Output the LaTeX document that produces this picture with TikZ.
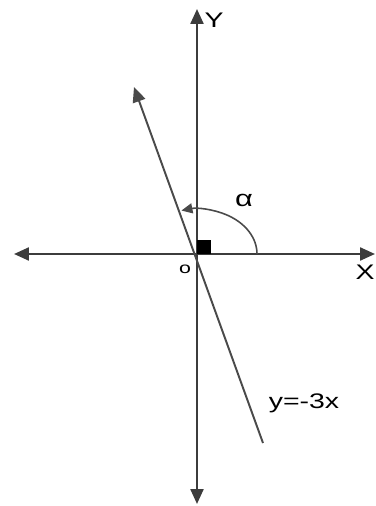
\documentclass[tikz,border=0pt]{standalone}
\usepackage{fontspec}
\setmainfont{Liberation Sans}
\usetikzlibrary{arrows.meta}
\definecolor{axisgray}{HTML}{3C3C3C}
\definecolor{linegray}{HTML}{4A4A4A}
\newcommand{\widetxt}[1]{\scalebox{1.35}[1]{#1}}
\tikzset{
  axis/.style={draw=axisgray, line width=1.3pt, {Triangle[length=3mm,width=2.6mm]}-{Triangle[length=3mm,width=2.6mm]}},
  graphline/.style={draw=linegray, line width=1.1pt},
  anglearc/.style={draw=linegray, line width=0.9pt, -{Triangle[length=2.2mm,width=2mm]}},
  rightangle/.style={fill=black, inner sep=0pt, minimum width=0.27cm, minimum height=0.28cm},
  axislabel/.style={font=\fontsize{12}{14}\selectfont, text=black, inner sep=0pt},
  originlabel/.style={font=\fontsize{9}{11}\selectfont, text=black, inner sep=0pt}
}

\begin{document}
\begin{tikzpicture}[x=0.02cm, y=0.02cm]
\useasboundingbox (-197,-252) rectangle (178,254);

\coordinate (O) at (0,0);
\coordinate (xleft) at (-183,0);
\coordinate (xright) at (178,0);
\coordinate (ytop) at (0,245);
\coordinate (ybottom) at (0,-250);
\coordinate (ltop) at (-63,167);
\coordinate (lbottom) at (66,-189);

% axes and the line y=-3x
\draw[axis] (xleft) -- (xright);
\draw[axis] (ybottom) -- (ytop);
\draw[graphline, -{Triangle[length=3mm,width=2.6mm]}] (lbottom) -- (ltop);

\node[rightangle, anchor=south west] (square) at (O) {};
\draw[anglearc] (60,0) arc[start angle=0, end angle=105, x radius=60, y radius=45];

\node[axislabel] (ylabel) at (17,234) {\widetxt{Y}};
\node[axislabel, anchor=east] (xlabel) at (178,-18) {\widetxt{X}};
\node[originlabel] (olabel) at (-12,-15) {\widetxt{o}};
\node[axislabel, font=\fontsize{13}{15}\selectfont] (alpha) at (47,54) {\widetxt{α}};
\node[axislabel] (eqlabel) at (107,-149) {\widetxt{y=-3x}};
\end{tikzpicture}
\end{document}
